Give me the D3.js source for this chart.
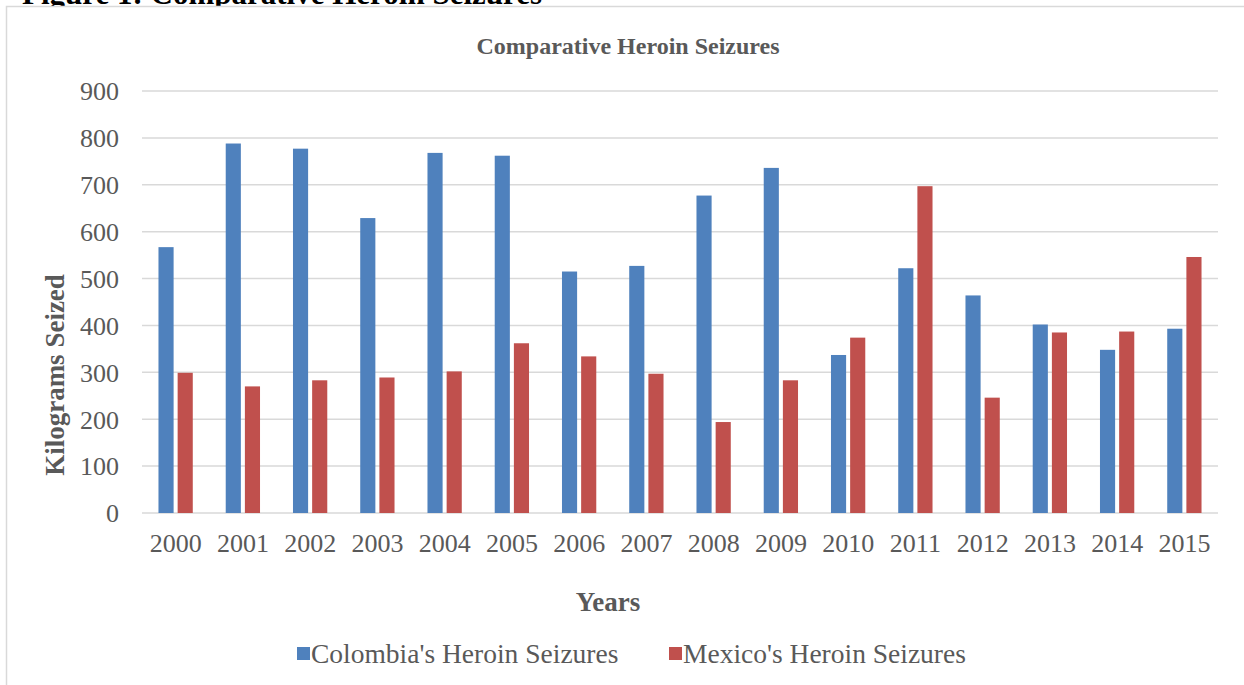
<!DOCTYPE html>
<html>
<head>
<meta charset="utf-8">
<script src="https://cdn.jsdelivr.net/npm/d3@7"></script>
<style>
  html, body { margin: 0; padding: 0; background: #fff; overflow: hidden; }
  svg { display: block; }
  text { font-family: "Liberation Serif", "Times New Roman", serif; }
</style>
</head>
<body>
<svg id="chart" width="1244" height="685"></svg>
<script>
// Heroin seizures (kg) by year
const years = ["2000","2001","2002","2003","2004","2005","2006","2007",
               "2008","2009","2010","2011","2012","2013","2014","2015"];
const colombia = [567, 788, 777, 629, 768, 762, 515, 527, 677, 736, 337, 522, 464, 402, 348, 393];
const mexico   = [299, 270, 283, 289, 302, 362, 334, 297, 194, 283, 374, 697, 246, 385, 387, 546];
const seriesNames = ["Colombia's Heroin Seizures", "Mexico's Heroin Seizures"];
const seriesColors = ["#4F81BD", "#C0504D"];
const yTicks = [0, 100, 200, 300, 400, 500, 600, 700, 800, 900];

const svg = d3.select("#chart");
const textColor = "#595959";

// caption running above the chart frame (clipped by the page top)
svg.append("text")
  .attr("x", 22).attr("y", 4)
  .attr("font-size", 31).attr("font-weight", "bold").attr("fill", "#000")
  .text("Figure 1: Comparative Heroin Seizures");

// chart frame
svg.append("rect")
  .attr("x", 6.5).attr("y", 6.5).attr("width", 1260).attr("height", 700)
  .attr("fill", "#fff").attr("stroke", "#D9D9D9").attr("stroke-width", 1.5);

const plot = { left: 142, right: 1218, top: 91, bottom: 513 };

const x = d3.scaleBand().domain(years).range([plot.left, plot.right]).padding(0);
const y = d3.scaleLinear().domain([0, 900]).range([plot.bottom, plot.top]);

// gridlines
svg.append("g")
  .selectAll("line").data(yTicks).join("line")
  .attr("x1", plot.left).attr("x2", plot.right)
  .attr("y1", d => y(d)).attr("y2", d => y(d))
  .attr("stroke", "#D9D9D9").attr("stroke-width", 1.5);

// y axis labels
const yAxis = d3.axisLeft(y).tickValues(yTicks).tickSize(0).tickPadding(0);
const gy = svg.append("g").attr("transform", `translate(${plot.left - 23},0)`).call(yAxis);
gy.select(".domain").remove();
gy.selectAll("text")
  .attr("font-family", "Liberation Serif, serif")
  .attr("font-size", 26).attr("fill", textColor).attr("dy", "0.34em");

// x axis labels
const xAxis = d3.axisBottom(x).tickSize(0).tickPadding(0);
const gx = svg.append("g").attr("transform", `translate(0,${plot.bottom + 21})`).call(xAxis);
gx.select(".domain").remove();
gx.selectAll("text")
  .attr("font-family", "Liberation Serif, serif")
  .attr("font-size", 26).attr("fill", textColor).attr("dy", "0.71em");

// bars
const bw = x.bandwidth();
const barW = bw * 0.225;
const innerGap = bw * 0.06;
const groupW = barW * 2 + innerGap;
[colombia, mexico].forEach((vals, si) => {
  svg.append("g")
    .selectAll("rect").data(vals).join("rect")
    .attr("x", (d, i) => x(years[i]) + (bw - groupW) / 2 + si * (barW + innerGap))
    .attr("y", d => y(d))
    .attr("width", barW)
    .attr("height", d => y(0) - y(d))
    .attr("fill", seriesColors[si]);
});

// chart title
svg.append("text")
  .attr("x", 628).attr("y", 54).attr("text-anchor", "middle")
  .attr("font-size", 24).attr("font-weight", "bold").attr("fill", textColor)
  .text("Comparative Heroin Seizures");

// axis titles
svg.append("text")
  .attr("transform", "translate(64,375) rotate(-90)")
  .attr("text-anchor", "middle")
  .attr("font-size", 27).attr("font-weight", "bold").attr("fill", textColor)
  .text("Kilograms Seized");

svg.append("text")
  .attr("x", 608).attr("y", 611).attr("text-anchor", "middle")
  .attr("font-size", 27).attr("font-weight", "bold").attr("fill", textColor)
  .text("Years");

// legend
const legendItems = [
  { name: seriesNames[0], color: seriesColors[0], x: 297 },
  { name: seriesNames[1], color: seriesColors[1], x: 669 }
];
const lg = svg.append("g");
legendItems.forEach(it => {
  lg.append("rect").attr("x", it.x).attr("y", 647).attr("width", 13).attr("height", 13).attr("fill", it.color);
  lg.append("text").attr("x", it.x + 14).attr("y", 663)
    .attr("font-size", 27.5).attr("fill", textColor).text(it.name);
});
</script>
</body>
</html>
